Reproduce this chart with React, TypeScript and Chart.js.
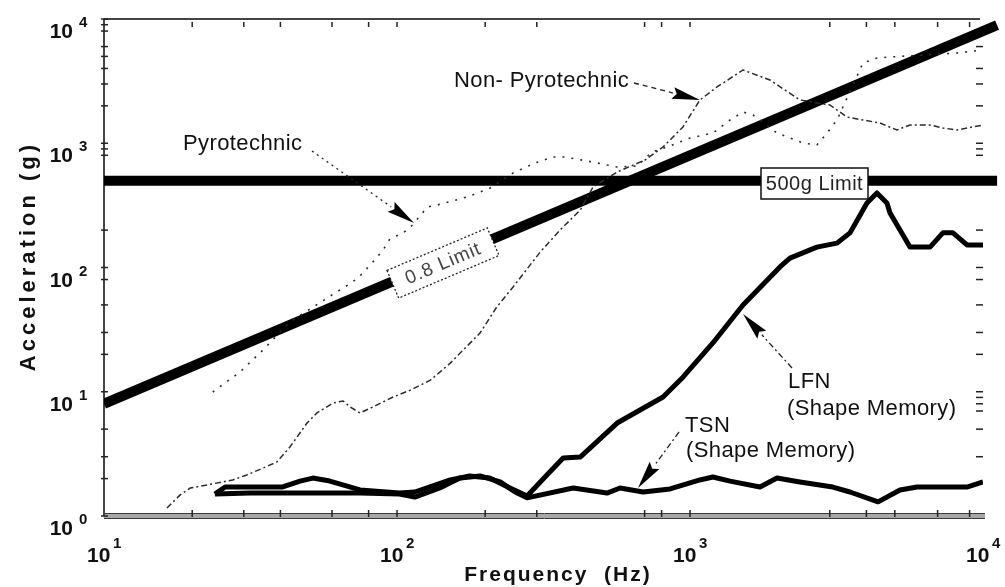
import React, { useEffect, useRef } from "react";
import { Chart, registerables } from "chart.js";

Chart.register(...registerables);

// ---------- data (frequency in Hz, acceleration in g) ----------
const LFN_FREQ = [23.9, 25.9, 31.5, 40.5, 46.7, 51.6, 59, 74.8, 102, 115, 152, 177, 207, 243, 278, 320, 369, 422, 564, 809, 946, 1197, 1517, 2028, 2193, 2710, 3175, 3516, 4018, 4345, 4700, 4816, 5633, 6594, 7295, 7900, 8816, 10000];
const LFN_ACC = [1.5, 1.71, 1.71, 1.71, 1.91, 2.02, 1.91, 1.62, 1.53, 1.56, 1.95, 2.1, 2.02, 1.68, 1.45, 2.06, 2.93, 2.98, 5.6, 9.07, 13.1, 24.7, 49.9, 101, 119, 146, 157, 190, 331, 398, 331, 275, 146, 146, 190, 190, 152, 152];

const TSN_FREQ = [23.9, 31.5, 40.5, 46.7, 74.8, 102, 115, 140, 164, 192, 225, 253, 278, 399, 521, 577, 692, 855, 1081, 1197, 1370, 1733, 1981, 2372, 3073, 3516, 4384, 5208, 5953, 8816, 10000];
const TSN_ACC = [1.5, 1.53, 1.53, 1.53, 1.53, 1.5, 1.42, 1.68, 2.02, 2.1, 1.88, 1.56, 1.4, 1.68, 1.53, 1.68, 1.56, 1.65, 1.95, 2.06, 1.91, 1.71, 2.02, 1.88, 1.71, 1.56, 1.3, 1.62, 1.71, 1.71, 1.88];

const NONPYRO_FREQ = [16.4, 18.2, 19.7, 22.5, 27.5, 30.7, 34.9, 38.9, 43.1, 49.3, 53.3, 60.5, 65.5, 69.2, 74.8, 82.8, 96.9, 111, 130, 152, 192, 219, 249, 308, 360, 422, 467, 564, 702, 809, 946, 1081, 1236, 1517, 1875, 2372, 3003, 3436, 3894, 4446, 5082, 5633, 6594, 7295, 8147, 10000];
const NONPYRO_ACC = [1.16, 1.48, 1.68, 1.78, 1.95, 2.14, 2.43, 2.72, 3.59, 5.6, 6.75, 8.12, 8.43, 7.54, 6.75, 7.54, 9.07, 10.3, 12.4, 17.0, 29.7, 48.1, 69.7, 133, 200, 290, 444, 587, 733, 933, 1352, 2230, 2837, 3887, 3228, 2230, 2032, 1626, 1538, 1456, 1279, 1403, 1403, 1327, 1279, 1403];

const PYRO_FREQ = [23.5, 29.1, 34.9, 43.1, 61.4, 68, 73.6, 82.8, 89.6, 94.6, 105, 113, 127, 137, 173, 208, 249, 296, 341, 374, 445, 564, 660, 742, 835, 1000, 1197, 1370, 1517, 1641, 1733, 1981, 2193, 2430, 2710, 2935, 3175, 3326, 3894, 4345, 4816, 8147, 10000];
const PYRO_ACC = [9.95, 14.4, 21.7, 36.4, 62.3, 72.3, 82.3, 111, 138, 170, 190, 220, 307, 318, 369, 436, 576, 694, 775, 775, 720, 644, 656, 850, 933, 1102, 1209, 1538, 1785, 1688, 1538, 1209, 1102, 1005, 968, 1209, 1538, 1959, 4426, 4853, 4944, 5325, 5627];

const LIMIT_FREQ = [10, 11170];
const LIMIT_500G = [500, 500];
const LIMIT_08F = [8, 8936];

// ---------- ticks ----------
const X_MAJOR = [10, 100, 1000, 10000];
const X_EXP = ["1", "2", "3", "4"];
const X_MINOR = [20, 30, 40, 60, 80, 200, 300, 700, 800, 3000, 4000, 5000, 7000, 9000];
const Y_MAJOR = [1, 10, 100, 1000, 10000];
const Y_EXP = ["0", "1", "2", "3", "4"];
const Y_MINOR_LEFT = [2, 3, 5, 20, 30, 50, 80, 200, 800, 900, 2000, 3000, 4000, 5000, 6000, 8000, 9000];
const Y_MINOR_RIGHT = [3, 5, 7, 8, 9, 20, 30, 50, 80, 200, 800, 900, 2000, 3000, 4000, 6000];

const FONT = '"Liberation Sans", Arial, Helvetica, sans-serif';

function pts(xs: number[], ys: number[]) {
  return xs.map((x, i) => ({ x, y: ys[i] }));
}

function seg(ctx: CanvasRenderingContext2D, x0: number, y0: number, x1: number, y1: number) {
  ctx.beginPath();
  ctx.moveTo(x0, y0);
  ctx.lineTo(x1, y1);
  ctx.stroke();
}

function arrow(ctx: CanvasRenderingContext2D, x0: number, y0: number, x1: number, y1: number, dash: number[]) {
  const dx = x1 - x0, dy = y1 - y0;
  const L = Math.hypot(dx, dy);
  const ux = dx / L, uy = dy / L;
  const hl = 28, hw = 6;
  const bx = x1 - ux * hl, by = y1 - uy * hl;
  ctx.save();
  ctx.setLineDash(dash);
  ctx.lineWidth = 1.3;
  ctx.strokeStyle = "#222";
  seg(ctx, x0, y0, bx, by);
  ctx.setLineDash([]);
  ctx.fillStyle = "#000";
  ctx.beginPath();
  ctx.moveTo(x1, y1);
  ctx.lineTo(bx - uy * hw, by + ux * hw);
  ctx.lineTo(bx + ux * 4, by + uy * 4);
  ctx.lineTo(bx + uy * hw, by - ux * hw);
  ctx.closePath();
  ctx.fill();
  ctx.restore();
}

const decor = {
  id: "decor",
  beforeDatasetsDraw(chart: any) {
    const { ctx, chartArea: a, scales } = chart;
    const sx = scales.x, sy = scales.y;
    ctx.save();
    ctx.lineCap = "butt";
    // bottom double axis line
    ctx.fillStyle = "#a8a8a8";
    ctx.fillRect(a.left, a.bottom - 2, a.right + 2 - a.left, 4);
    ctx.strokeStyle = "#3a3a3a";
    ctx.lineWidth = 1;
    seg(ctx, a.left, a.bottom - 2.5, a.right + 2, a.bottom - 2.5);
    seg(ctx, a.left, a.bottom + 2.5, a.right + 2, a.bottom + 2.5);
    // top and left lines
    ctx.strokeStyle = "#444";
    ctx.lineWidth = 2;
    seg(ctx, a.left, a.top, a.right - 3, a.top);
    seg(ctx, a.left, a.top, a.left, a.bottom);
    // ticks
    ctx.strokeStyle = "#222";
    ctx.lineWidth = 1.5;
    for (const v of [...X_MAJOR.slice(1, 3), ...X_MINOR]) {
      const x = sx.getPixelForValue(v);
      seg(ctx, x, a.bottom - 6, x, a.bottom + 1);
      seg(ctx, x, a.top + 3, x, a.top + 8);
    }
    for (const v of [...Y_MAJOR, ...Y_MINOR_LEFT]) {
      const y = sy.getPixelForValue(v);
      seg(ctx, a.left - 3, y, a.left + 4, y);
    }
    for (const v of [...Y_MAJOR.slice(1, 4), ...Y_MINOR_RIGHT]) {
      const y = sy.getPixelForValue(v);
      seg(ctx, a.right - 7, y, a.right, y);
    }
    ctx.restore();
  },
  afterDatasetsDraw(chart: any) {
    const { ctx, chartArea: a, scales } = chart;
    const sx = scales.x, sy = scales.y;
    ctx.save();

    // rotated "0.8 Limit" box along the diagonal limit line
    const ang = Math.atan2(sy.getPixelForValue(80) - sy.getPixelForValue(8), sx.getPixelForValue(100) - sx.getPixelForValue(10));
    ctx.save();
    ctx.translate(443, 263);
    ctx.rotate(ang);
    ctx.fillStyle = "#fff";
    ctx.fillRect(-54.5, -15, 109, 30);
    ctx.setLineDash([2, 2]);
    ctx.lineWidth = 1.3;
    ctx.strokeStyle = "#222";
    ctx.strokeRect(-54.5, -15, 109, 30);
    ctx.setLineDash([]);
    ctx.font = `19px ${FONT}`;
    (ctx as any).letterSpacing = "1px";
    ctx.fillStyle = "#444";
    ctx.textAlign = "center";
    ctx.textBaseline = "middle";
    ctx.fillText("0.8 Limit", 0, 1);
    ctx.restore();

    // "500g Limit" box
    ctx.fillStyle = "#fff";
    ctx.fillRect(761, 168, 107, 31);
    ctx.strokeStyle = "#111";
    ctx.lineWidth = 1.5;
    ctx.strokeRect(761, 168, 107, 31);
    ctx.font = `20px ${FONT}`;
    (ctx as any).letterSpacing = "0.5px";
    ctx.fillStyle = "#222";
    ctx.textAlign = "center";
    ctx.textBaseline = "alphabetic";
    ctx.fillText("500g Limit", 814.5, 190);

    // arrows
    arrow(ctx, 312, 151, 414, 223, [2, 4]);
    arrow(ctx, 634, 83, 700, 100, [5, 4]);
    arrow(ctx, 792, 368, 743, 314, [6, 3, 2, 3]);
    arrow(ctx, 679, 432, 638, 488, [6, 3, 2, 3]);

    // annotation text
    ctx.font = `22px ${FONT}`;
    (ctx as any).letterSpacing = "0.4px";
    ctx.fillStyle = "#111";
    ctx.textAlign = "left";
    ctx.fillText("Non- Pyrotechnic", 454, 87);
    ctx.fillText("Pyrotechnic", 183, 150);
    ctx.fillText("LFN", 788, 388);
    ctx.fillText("(Shape Memory)", 787, 415);
    ctx.fillText("TSN", 685, 432);
    ctx.fillText("(Shape Memory)", 686, 457);

    // tick labels
    (ctx as any).letterSpacing = "0px";
    ctx.fillStyle = "#111";
    Y_MAJOR.forEach((v, i) => {
      const y = sy.getPixelForValue(v);
      ctx.font = `bold 21px ${FONT}`;
      ctx.textAlign = "right";
      ctx.fillText("10", a.left - 31, y + 19);
      ctx.font = `bold 15px ${FONT}`;
      ctx.textAlign = "left";
      ctx.fillText(Y_EXP[i], a.left - 25, y + 8);
    });
    X_MAJOR.forEach((v, i) => {
      const x = sx.getPixelForValue(v);
      ctx.font = `bold 21px ${FONT}`;
      ctx.textAlign = "left";
      ctx.fillText("10", x - 17, a.bottom + 46);
      ctx.font = `bold 15px ${FONT}`;
      ctx.fillText(X_EXP[i], x + 9, a.bottom + 32);
    });

    // axis titles
    ctx.font = `bold 21px ${FONT}`;
    (ctx as any).letterSpacing = "2px";
    ctx.textAlign = "center";
    ctx.fillText("Frequency  (Hz)", 558, a.bottom + 65);
    ctx.save();
    ctx.font = `bold 22px ${FONT}`;
    (ctx as any).letterSpacing = "4px";
    ctx.translate(35, 256);
    ctx.rotate(-Math.PI / 2);
    ctx.fillText("Acceleration (g)", 0, 0);
    ctx.restore();

    ctx.restore();
  },
};

export default function App() {
  const ref = useRef<HTMLCanvasElement>(null);
  useEffect(() => {
    document.body.style.margin = "0";
    const thin = { pointRadius: 0, showLine: true, tension: 0, fill: false };
    const chart = new Chart(ref.current as HTMLCanvasElement, {
      type: "scatter",
      data: {
        datasets: [
          { ...thin, label: "Non-Pyrotechnic", data: pts(NONPYRO_FREQ, NONPYRO_ACC), borderColor: "#2a2a2a", borderWidth: 1.5, borderDash: [6, 3, 2, 3] },
          { ...thin, label: "Pyrotechnic", data: pts(PYRO_FREQ, PYRO_ACC), borderColor: "#2a2a2a", borderWidth: 1.6, borderDash: [2, 7] },
          { ...thin, label: "500g Limit", data: pts(LIMIT_FREQ, LIMIT_500G), borderColor: "#000", borderWidth: 10, borderCapStyle: "butt", clip: { left: 0, top: 10, right: 20, bottom: 0 } },
          { ...thin, label: "0.8 Limit", data: pts(LIMIT_FREQ, LIMIT_08F), borderColor: "#000", borderWidth: 10, borderCapStyle: "butt", clip: { left: 0, top: 10, right: 20, bottom: 0 } },
          { ...thin, label: "TSN", data: pts(TSN_FREQ, TSN_ACC), borderColor: "#000", borderWidth: 5, borderJoinStyle: "round" },
          { ...thin, label: "LFN", data: pts(LFN_FREQ, LFN_ACC), borderColor: "#000", borderWidth: 5, borderJoinStyle: "round" },
        ] as any,
      },
      options: {
        responsive: false,
        maintainAspectRatio: false,
        animation: false,
        events: [],
        layout: { padding: { left: 104, right: 22, top: 19, bottom: 71 } },
        plugins: { legend: { display: false }, tooltip: { enabled: false }, title: { display: false } },
        scales: {
          x: { type: "logarithmic", min: 10, max: 10000, display: false },
          y: { type: "logarithmic", min: 1, max: 10000, display: false },
        },
      } as any,
      plugins: [decor as any],
    });
    return () => chart.destroy();
  }, []);
  return <canvas ref={ref} width={1005} height={587} style={{ display: "block", width: 1005, height: 587 }} />;
}
